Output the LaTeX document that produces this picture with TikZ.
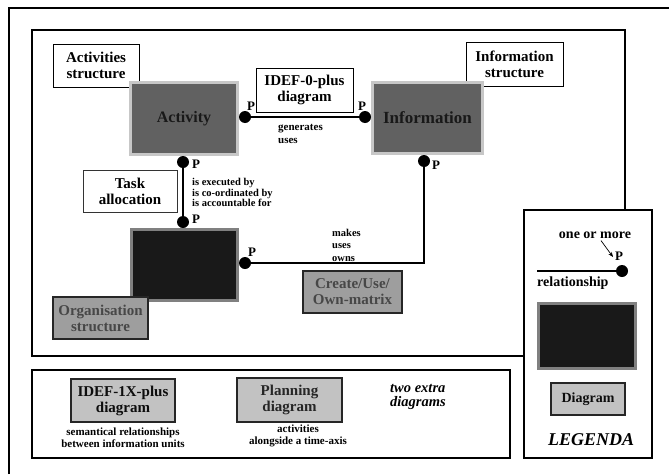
\documentclass[tikz,border=0pt]{standalone}
\usepackage{fontspec}
\setmainfont{Liberation Serif}
\usetikzlibrary{calc,arrows.meta}
\begin{document}
\begin{tikzpicture}[x=1pt,y=-1pt,
  lbl/.style={draw=black, line width=0.9pt, fill=white, font=\bfseries\fontsize{15}{16}\selectfont, align=center, inner sep=0pt},
  darkbox/.style={draw=black, line width=0.6pt, double=black!22, double distance=2.6pt, fill=black!62, text=black!90, font=\bfseries\fontsize{16}{17}\selectfont, align=center, inner sep=0pt},
  darkerbox/.style={darkbox, fill=black!90, double=black!50},
  greybox/.style={draw=black!85, line width=1.1pt, fill=black!38, text=black!72, font=\bfseries\fontsize{15}{16}\selectfont, align=center, inner sep=0pt},
  lightbox/.style={greybox, fill=black!24, text=black!95},
  dot/.style={circle, fill=black, inner sep=0pt, minimum size=12pt},
  conn/.style={line width=2.4pt},
  small/.style={font=\bfseries\fontsize{11}{12.5}\selectfont, align=left, inner sep=0pt},
  pmark/.style={font=\bfseries\fontsize{13}{13}\selectfont, inner sep=0pt},
  frame/.style={line width=1.6pt},
  legtext/.style={font=\bfseries\fontsize{14}{15}\selectfont, inner sep=0pt}
]
\useasboundingbox (0,0) rectangle (669,474);
\fill[white] (0,0) rectangle (669,474);

% frames
\draw[line width=1.2pt] (9,474) -- (9,8) -- (669,8);
\draw[frame] (524,356) -- (32,356) -- (32,30) -- (625,30) -- (625,210);
\draw[frame] (524,210) rectangle (652,458);
\draw[frame] (32,370) rectangle (510,458);

% label boxes behind the main boxes
\node[lbl, minimum width=86pt, minimum height=43pt] (actstr) at (96,65.5) {Activities\\structure};
\node[lbl, minimum width=97pt, minimum height=44pt] (infostr) at (514.5,64) {Information\\structure};
\node[lbl, minimum width=97pt, minimum height=44pt] (idef0) at (304.5,90) {IDEF-0-plus\\diagram};
\node[lbl, draw=black!80, minimum width=94pt, minimum height=42pt] (task) at (130,191) {Task\\allocation};

% main boxes
\node[darkbox, minimum width=107pt, minimum height=72pt] (act) at (184,118.5) {Activity};
\node[darkbox, minimum width=110pt, minimum height=71pt, font=\bfseries\fontsize{17}{18}\selectfont] (info) at (427.5,118) {Information};
\node[darkerbox, minimum width=106pt, minimum height=71pt] (org) at (184.5,265) {};

\node[greybox, minimum width=95pt, minimum height=42pt] (orgstr) at (100.5,318) {Organisation\\structure};
\node[greybox, minimum width=99pt, minimum height=42pt] (cuo) at (352.5,292) {Create/Use/\\Own-matrix};

% dots
\node[dot] (d1) at (245,117) {};
\node[dot] (d2) at (365,117) {};
\node[dot] (d3) at (183,162) {};
\node[dot] (d4) at (183,222) {};
\node[dot] (d5) at (424,161) {};
\node[dot] (d6) at (245,263) {};

% connectors
\draw[conn] (d1) -- (d2);
\draw[conn] (d3) -- (d4);
\draw[conn] (d5) |- (d6);

% P marks
\node[pmark] (p1) at (251,106) {P};
\node[pmark] (p2) at (362,106) {P};
\node[pmark] (p3) at (196,164) {P};
\node[pmark] (p4) at (196,219) {P};
\node[pmark] (p5) at (436,165) {P};
\node[pmark] (p6) at (252,252) {P};

% relationship texts
\node[small, font=\bfseries\fontsize{11}{13}\selectfont, anchor=west] (t1) at (278,133.5) {generates\\uses};
\node[small, font=\bfseries\fontsize{10.5}{10.5}\selectfont, anchor=west] (t2) at (192,192.5) {is executed by\\is co-ordinated by\\is accountable for};
\node[small, font=\bfseries\fontsize{10.5}{12.5}\selectfont, anchor=west] (t3) at (332,245) {makes\\uses\\owns};

% bottom box
\node[lightbox, minimum width=104pt, minimum height=43pt] (idef1x) at (123,400.5) {IDEF-1X-plus\\diagram};
\node[small, align=center, font=\bfseries\fontsize{11}{12}\selectfont] (t4) at (123,438) {semantical relationships\\between information units};
\node[lightbox, minimum width=105pt, minimum height=44pt, text=black!85] (plan) at (289.5,400) {Planning\\diagram};
\node[small, align=center, font=\bfseries\fontsize{11}{11.5}\selectfont] (t5) at (298,436) {activities\\alongside a time-axis};
\node[small, anchor=west, font=\bfseries\itshape\fontsize{14.5}{13.5}\selectfont] (t6) at (390,397) {two extra\\diagrams};

% legend
\node[legtext] (om) at (595,235) {one or more};
\coordinate (tip) at (613,257);
\draw[line width=0.7pt, -{Stealth[length=5pt,width=4pt]}] ($(om.south)+(6,2)$) -- (tip);
\node[pmark] (p7) at (619,256) {P};
\node[dot] (d7) at (622,271) {};
\coordinate (rs) at (537,271);
\draw[line width=1.6pt] (rs) -- (d7);
\node[legtext, anchor=west] (rel) at (537,283) {relationship};
\node[darkerbox, minimum width=97pt, minimum height=65pt] (legdark) at (587,336) {};
\node[lightbox, minimum width=74pt, minimum height=32pt, font=\bfseries\fontsize{14}{15}\selectfont] (legdiag) at (588,399) {Diagram};
\node[font=\bfseries\itshape\fontsize{18}{18}\selectfont, inner sep=0pt] (leg) at (591,440) {LEGENDA};
\end{tikzpicture}
\end{document}
